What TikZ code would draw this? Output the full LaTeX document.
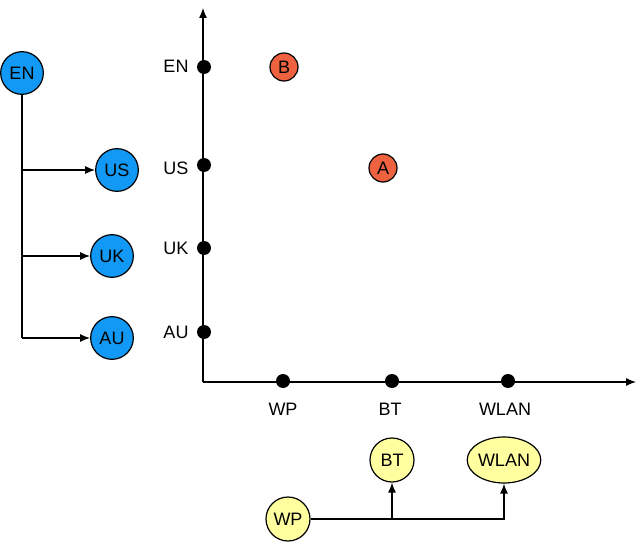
\documentclass[tikz,border=0pt]{standalone}
\usepackage{fontspec}
\setmainfont{Liberation Sans}
\usetikzlibrary{arrows.meta,shapes.geometric}

\tikzset{every picture/.style={line width=0.9pt}}
\tikzset{
  bluenode/.style={circle, draw, fill={rgb, 255:red, 17; green, 153; blue, 245}, inner sep=0pt, minimum size=32pt},
  rednode/.style={circle, draw, fill={rgb, 255:red, 238; green, 98; blue, 64}, inner sep=0pt, minimum size=21pt},
  yellownode/.style={circle, draw, fill={rgb, 255:red, 255; green, 255; blue, 160}, inner sep=0pt, minimum size=33pt},
  dotnode/.style={circle, fill=black, inner sep=0pt, minimum size=10.5pt},
  axislabel/.style={inner sep=0pt},
  arrowline/.style={-{Latex[length=7.5pt,width=6pt]}},
}

\begin{document}
\begin{tikzpicture}[x=0.75pt,y=0.75pt,yscale=-1,xscale=1,font=\fontsize{13.5}{16}\selectfont]
\useasboundingbox (0,0) rectangle (643,542);

%Axes
\coordinate (orig) at (203,382);
\coordinate (ytip) at (203,8);
\coordinate (xtip) at (636,382);
\draw [arrowline] (orig) -- (ytip);
\draw [arrowline] (orig) -- (xtip);

%Dots on the vertical axis
\node [dotnode] (yEN) at (204,67) {};
\node [dotnode] (yUS) at (204,165) {};
\node [dotnode] (yUK) at (204,248) {};
\node [dotnode] (yAU) at (204,332) {};
\node [axislabel] (lEN) at (176,66) {EN};
\node [axislabel] (lUS) at (176,168) {US};
\node [axislabel] (lUK) at (176,248) {UK};
\node [axislabel] (lAU) at (176,332) {AU};

%Dots on the horizontal axis
\node [dotnode] (xWP) at (283,381) {};
\node [dotnode] (xBT) at (392,381) {};
\node [dotnode] (xWLAN) at (508,381) {};
\node [axislabel] (lWP) at (283,409) {WP};
\node [axislabel] (lBT) at (390,409) {BT};
\node [axislabel] (lWLAN) at (505,409) {WLAN};

%Points
\node [rednode] (B) at (284,67) {B};
\node [rednode] (A) at (383,168) {A};

%Language tree
\node [bluenode] (EN) at (22,73) {EN};
\node [bluenode] (US) at (117,170) {US};
\node [bluenode] (UK) at (112,256) {UK};
\node [bluenode] (AU) at (112,338) {AU};
\draw (EN.south) -- (EN.south |- AU.west);
\draw [arrowline] (EN.south |- US.west) -- (US.west);
\draw [arrowline] (EN.south |- UK.west) -- (UK.west);
\draw [arrowline] (EN.south |- AU.west) -- (AU.west);

%Connection tree
\node [yellownode] (WP) at (288,519) {WP};
\node [yellownode] (BT) at (392,460) {BT};
\node [yellownode, ellipse, minimum width=50pt, minimum height=34.5pt] (WLAN) at (504,460) {WLAN};
\draw [arrowline] (WP.east) -| (WLAN.south);
\draw [arrowline] (WP.east -| BT.south) -- (BT.south);
\end{tikzpicture}
\end{document}
